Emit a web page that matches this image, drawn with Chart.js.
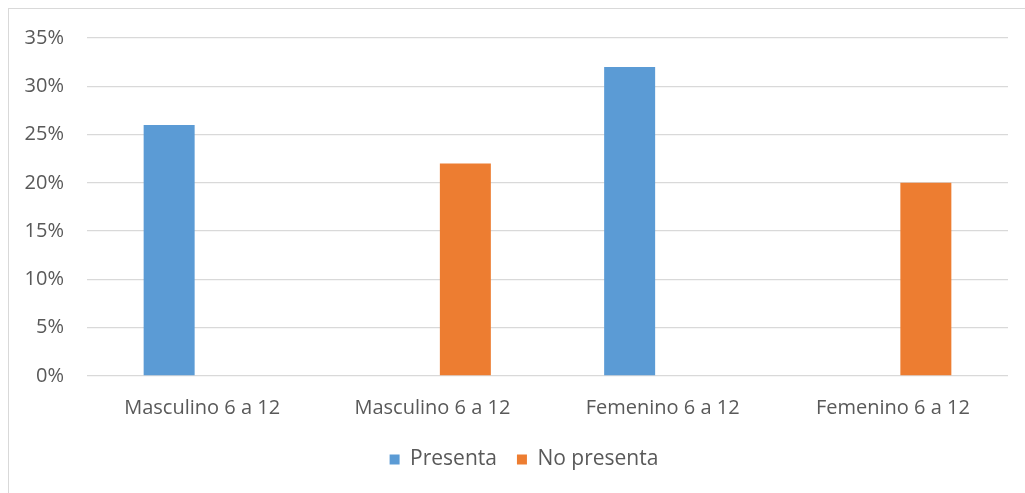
<!DOCTYPE html>
<html>
<head>
<meta charset="utf-8">
<script src="https://cdn.jsdelivr.net/npm/chart.js@4/dist/chart.umd.min.js"></script>
<style>
  html, body { margin: 0; padding: 0; background: #ffffff; overflow: hidden; }
  #frame {
    position: absolute; left: 8px; top: 8px;
    width: 1100px; height: 600px;
    border: 1.5px solid #d9d9d9;
  }
  #wrap { position: absolute; left: 0; top: 0; width: 1025px; height: 493px; }
</style>
</head>
<body>
<div id="frame"></div>
<div id="wrap"><canvas id="chart" width="1025" height="493"></canvas></div>
<script>
// Categories and series values (percent)
const categories = ["Masculino 6 a 12", "Masculino 6 a 12", "Femenino 6 a 12", "Femenino 6 a 12"];
const presenta = [26, null, 32, null];
const noPresenta = [null, 22, null, 20];
const seriesNames = ["Presenta", "No presenta"];
const yTicks = [0, 5, 10, 15, 20, 25, 30, 35];

const textColor = "#595959";
const fontFamily = "'Open Sans', 'Liberation Sans', sans-serif";

// Nudge the legend block to the right of the default centred spot
const legendShift = {
  id: "legendShift",
  afterLayout(chart) {
    const lg = chart.legend;
    if (lg) { lg.left += 20; lg.right += 20; }
  }
};

new Chart(document.getElementById("chart"), {
  type: "bar",
  data: {
    labels: categories,
    datasets: [
      { label: seriesNames[0], data: presenta, backgroundColor: "#5B9BD5",
        categoryPercentage: 0.573, barPercentage: 0.773 },
      { label: seriesNames[1], data: noPresenta, backgroundColor: "#ED7D31",
        categoryPercentage: 0.573, barPercentage: 0.773 }
    ]
  },
  plugins: [legendShift],
  options: {
    responsive: false,
    animation: false,
    layout: { padding: { left: 0, right: 17, top: 38, bottom: 13 } },
    plugins: {
      tooltip: { enabled: false },
      legend: {
        position: "bottom",
        labels: {
          color: textColor,
          font: { family: fontFamily, size: 21 },
          boxWidth: 10, boxHeight: 10,
          padding: 20
        }
      }
    },
    scales: {
      x: {
        grid: { display: false },
        border: { display: false },
        afterFit: s => { s.height -= 3; },
        ticks: { color: textColor, font: { family: fontFamily, size: 20 }, padding: 12, maxRotation: 0 }
      },
      y: {
        min: 0, max: 35,
        afterFit: s => { s.width = 87; },
        afterBuildTicks: s => { s.ticks = yTicks.map(v => ({ value: v })); },
        grid: { color: "#d9d9d9", lineWidth: 1.3, drawTicks: false },
        border: { display: false },
        ticks: {
          color: textColor, font: { family: fontFamily, size: 20 }, padding: 23,
          callback: v => v + "%"
        }
      }
    }
  }
});
</script>
</body>
</html>
